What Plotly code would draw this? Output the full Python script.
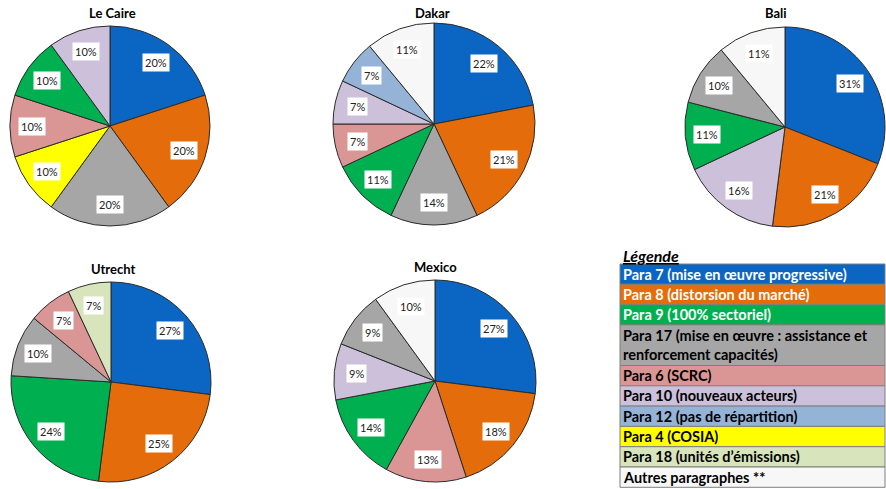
import math
import plotly.graph_objects as go

W, H = 886, 489

# ---- data ----
cat_keys = ["p7", "p8", "p9", "p17", "p6", "p10", "p12", "p4", "p18", "autres"]
cat_labels = [
    "Para 7 (mise en œuvre progressive)",
    "Para 8 (distorsion du marché)",
    "Para 9 (100% sectoriel)",
    "Para 17 (mise en œuvre : assistance et<br>renforcement capacités)",
    "Para 6 (SCRC)",
    "Para 10 (nouveaux acteurs)",
    "Para 12 (pas de répartition)",
    "Para 4 (COSIA)",
    "Para 18 (unités d’émissions)",
    "Autres paragraphes **",
]
cat_colors = ["#0a66c2", "#e46c0a", "#00b050", "#a6a6a6", "#da9694",
              "#ccc0da", "#95b3d7", "#ffff00", "#d8e4bc", "#f7f7f7"]
cat_text_colors = ["white", "white", "white", "black", "black",
                   "black", "black", "black", "black", "black"]
cat_rows = [1, 1, 1, 2, 1, 1, 1, 1, 1, 1]

cities = ["Le Caire", "Dakar", "Bali", "Utrecht", "Mexico"]
caire_keys = ["p7", "p8", "p17", "p4", "p6", "p9", "p10"]
caire_vals = [20, 20, 20, 10, 10, 10, 10]
dakar_keys = ["p7", "p8", "p17", "p9", "p6", "p10", "p12", "autres"]
dakar_vals = [22, 21, 14, 11, 7, 7, 7, 11]
bali_keys = ["p7", "p8", "p10", "p9", "p17", "autres"]
bali_vals = [31, 21, 16, 11, 10, 11]
utrecht_keys = ["p7", "p8", "p9", "p17", "p6", "p18"]
utrecht_vals = [27, 25, 24, 10, 7, 7]
mexico_keys = ["p7", "p8", "p6", "p9", "p10", "p17", "autres"]
mexico_vals = [27, 18, 13, 14, 9, 9, 10]

city_keys = [caire_keys, dakar_keys, bali_keys, utrecht_keys, mexico_keys]
city_vals = [caire_vals, dakar_vals, bali_vals, utrecht_vals, mexico_vals]

# ---- layout geometry (pixels) ----
centers = [(110, 126), (434, 124), (785, 127), (111, 382), (435, 381)]
radii = [100, 101, 100, 100, 101]
title_pos = [(112, 13), (432, 13), (776, 13), (113, 269), (435, 267)]

col_of = dict(zip(cat_keys, cat_colors))

def px(x):
    return x / W

def py(y):
    return 1 - y / H

fig = go.Figure()
annotations = []
shapes = []

for i, city in enumerate(cities):
    cx, cy = centers[i]
    r = radii[i]
    keys = city_keys[i]
    vals = city_vals[i]
    fig.add_trace(go.Pie(
        values=vals,
        labels=keys,
        sort=False,
        direction="clockwise",
        rotation=0,
        textinfo="none",
        hoverinfo="label+percent",
        marker=dict(colors=[col_of[k] for k in keys],
                    line=dict(color="#2b2b2b", width=1)),
        domain=dict(x=[px(cx - r), min(1, px(cx + r))],
                    y=[py(cy + r), py(cy - r)]),
        showlegend=False,
    ))
    total = sum(vals)
    acc = 0
    for v in vals:
        mid = (acc + v / 2) / total * 2 * math.pi
        acc += v
        lx = cx + 0.78 * r * math.sin(mid)
        ly = cy - 0.78 * r * math.cos(mid)
        annotations.append(dict(
            x=px(lx), y=py(ly), xref="paper", yref="paper",
            text=f"{round(v / total * 100)}%", showarrow=False,
            font=dict(family="Lato", size=11, color="#222"),
            bgcolor="white", borderpad=2,
            xanchor="center", yanchor="middle",
        ))
    tx, ty = title_pos[i]
    annotations.append(dict(
        x=px(tx), y=py(ty), xref="paper", yref="paper",
        text=f"<b>{city}</b>", showarrow=False,
        font=dict(family="Lato", size=13, color="black"),
        xanchor="center", yanchor="middle",
    ))

# ---- legend table ----
lx0, lx1 = 620, 885
ltop = 264
unit = 20.3
annotations.append(dict(
    x=px(621), y=py(255), xref="paper", yref="paper",
    text="<b><i><u>Légende</u></i></b>", showarrow=False,
    font=dict(family="Lato", size=16, color="black"),
    xanchor="left", yanchor="middle",
))
y = ltop
for lab, col, tcol, nrows in zip(cat_labels, cat_colors, cat_text_colors, cat_rows):
    h = unit * nrows
    shapes.append(dict(
        type="rect", xref="paper", yref="paper",
        x0=px(lx0), x1=px(lx1), y0=py(y + h), y1=py(y),
        fillcolor=col, line=dict(color="#7f7f7f", width=1), layer="below",
    ))
    annotations.append(dict(
        x=px(lx0 + 1), y=py(y + h / 2), xref="paper", yref="paper",
        text=f"<b>{lab}</b>", showarrow=False, align="left",
        font=dict(family="Lato", size=14.5, color=tcol),
        xanchor="left", yanchor="middle",
    ))
    y += h

fig.update_layout(
    width=W, height=H, autosize=False,
    margin=dict(l=0, r=0, t=0, b=0),
    paper_bgcolor="white", plot_bgcolor="white",
    annotations=annotations, shapes=shapes,
)

fig.write_html(
    "out.html",
    config={"displayModeBar": False},
    post_script="document.body.style.margin='0';document.body.style.overflow='hidden';",
)
